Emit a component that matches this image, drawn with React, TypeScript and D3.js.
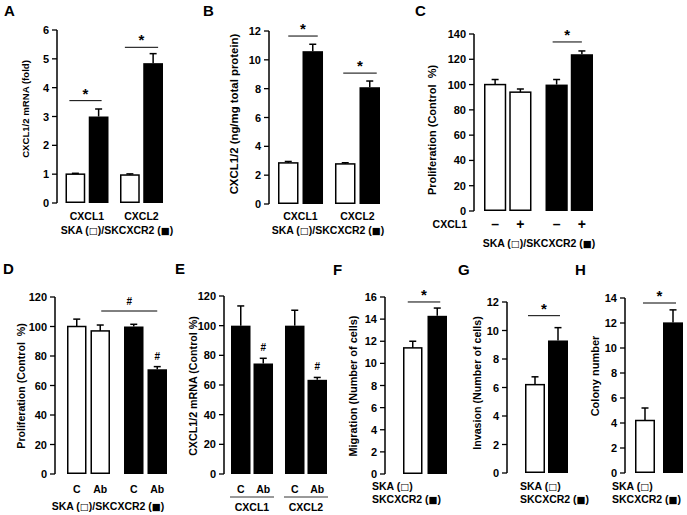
import React from "react";
import * as d3 from "d3";

const W = 687;
const H = 515;
const FONT = "'Liberation Sans', Arial, Helvetica, sans-serif";
const BOXFONT = "'DejaVu Sans', sans-serif";

// ---------- data ----------
const chemokines = ["CXCL1", "CXCL2"];
const treatCXCL1 = ["–", "+"];
const treatAb = ["C", "Ab"];
const cellSKA = "SKA";
const cellSKC = "SKCXCR2";
const boxOpen = "□";
const boxFilled = "■";

const aSKA = [1.0, 0.97];
const aSKAErr = [0.03, 0.04];
const aSKC = [3.0, 4.85];
const aSKCErr = [0.26, 0.33];
const aTicks = [0, 1, 2, 3, 4, 5, 6];

const bSKA = [2.85, 2.78];
const bSKAErr = [0.1, 0.08];
const bSKC = [10.6, 8.1];
const bSKCErr = [0.48, 0.43];
const bTicks = [0, 2, 4, 6, 8, 10, 12];

const cSKA = [100, 94];
const cSKAErr = [4, 2.5];
const cSKC = [100, 124];
const cSKCErr = [4, 2.6];
const cTicks = [0, 20, 40, 60, 80, 100, 120, 140];

const dSKA = [100, 97];
const dSKAErr = [5, 4];
const dSKC = [100, 71];
const dSKCErr = [1.5, 1.8];
const dTicks = [0, 20, 40, 60, 80, 100, 120];

const eCXCL1 = [100, 74.5];
const eCXCL1Err = [13.3, 3.5];
const eCXCL2 = [100, 63.5];
const eCXCL2Err = [10.4, 1.6];
const eTicks = [0, 20, 40, 60, 80, 100, 120];

const fMigration = [11.4, 14.3];
const fErr = [0.6, 0.7];
const fTicks = [0, 2, 4, 6, 8, 10, 12, 14, 16];

const gInvasion = [6.2, 9.3];
const gErr = [0.55, 0.9];
const gTicks = [0, 2, 4, 6, 8, 10, 12];

const hColony = [4.2, 12.05];
const hErr = [1.0, 1.0];
const hTicks = [0, 2, 4, 6, 8, 10, 12, 14];

// ---------- types ----------
type Bar = { g: number; i: number; v: number; e: number; dark: boolean };
type Sig = { a: number; b: number; v: number; mark: string; ext0: number; ext1: number };
type Panel = {
  letter: string;
  lx: number;
  ly: number;
  axisX: number;
  y0: number;
  yTop: number;
  ticks: number[];
  x0: number;
  x1: number;
  nGroups: number;
  nPer: number;
  groupPad: number;
  barPad: number;
  bars: Bar[];
  title: string;
  titleX: number;
  titleY: number;
  titleSize: number;
  sigs: Sig[];
  barMarks: number[];
};

function pairBars(white: number[], whiteErr: number[], black: number[], blackErr: number[]): Bar[] {
  const out: Bar[] = [];
  white.forEach((_, g) => {
    out.push({ g, i: 0, v: white[g], e: whiteErr[g], dark: false });
    out.push({ g, i: 1, v: black[g], e: blackErr[g], dark: true });
  });
  return out;
}
function groupBars(vals: number[][], errs: number[][], dark: boolean[]): Bar[] {
  const out: Bar[] = [];
  vals.forEach((vs, g) => vs.forEach((v, i) => out.push({ g, i, v, e: errs[g][i], dark: dark[g] })));
  return out;
}

const panelA: Panel = {
  letter: "A", lx: 4, ly: 16,
  axisX: 57, y0: 203, yTop: 30, ticks: aTicks,
  x0: 65.5, x1: 163, nGroups: 2, nPer: 2, groupPad: 0.211, barPad: 0.15,
  bars: pairBars(aSKA, aSKAErr, aSKC, aSKCErr),
  title: "CXCL1/2 mRNA (fold)", titleX: 25, titleY: 109, titleSize: 9.6,
  sigs: [
    { a: 0, b: 1, v: 3.55, mark: "*", ext0: 6, ext1: 3 },
    { a: 2, b: 3, v: 5.4, mark: "*", ext0: 5, ext1: 5 },
  ],
  barMarks: [],
};

const panelB: Panel = {
  letter: "B", lx: 203, ly: 16,
  axisX: 269, y0: 204, yTop: 31, ticks: bTicks,
  x0: 278, x1: 380, nGroups: 2, nPer: 2, groupPad: 0.21, barPad: 0.163,
  bars: pairBars(bSKA, bSKAErr, bSKC, bSKCErr),
  title: "CXCL1/2 (ng/mg total protein)", titleX: 234, titleY: 114, titleSize: 11.4,
  sigs: [
    { a: 0, b: 1, v: 11.65, mark: "*", ext0: 0, ext1: 5 },
    { a: 2, b: 3, v: 9.08, mark: "*", ext0: 2, ext1: 7 },
  ],
  barMarks: [],
};

const panelC: Panel = {
  letter: "C", lx: 415, ly: 16,
  axisX: 474, y0: 211, yTop: 34, ticks: cTicks,
  x0: 484, x1: 593, nGroups: 2, nPer: 2, groupPad: 0.228, barPad: 0.12,
  bars: groupBars([cSKA, cSKC], [cSKAErr, cSKCErr], [false, true]),
  title: "Proliferation (Control  %)", titleX: 432, titleY: 130, titleSize: 11,
  sigs: [{ a: 2, b: 3, v: 133.7, mark: "*", ext0: 4, ext1: 0 }],
  barMarks: [],
};

const panelD: Panel = {
  letter: "D", lx: 3, ly: 274,
  axisX: 55, y0: 474, yTop: 297, ticks: dTicks,
  x0: 67, x1: 167, nGroups: 2, nPer: 2, groupPad: 0.246, barPad: 0.17,
  bars: groupBars([dSKA, dSKC], [dSKAErr, dSKCErr], [false, true]),
  title: "Proliferation (Control  %)", titleX: 21, titleY: 386, titleSize: 10.6,
  sigs: [{ a: 1, b: 3, v: 110.5, mark: "#", ext0: -1, ext1: 0 }],
  barMarks: [3],
};

const panelE: Panel = {
  letter: "E", lx: 175, ly: 274,
  axisX: 224, y0: 474, yTop: 296, ticks: eTicks,
  x0: 231, x1: 327, nGroups: 2, nPer: 2, groupPad: 0.222, barPad: 0.133,
  bars: groupBars([eCXCL1, eCXCL2], [eCXCL1Err, eCXCL2Err], [true, true]),
  title: "CXCL1/2 mRNA (Control %)", titleX: 193, titleY: 386, titleSize: 10.7,
  sigs: [],
  barMarks: [1, 3],
};

const panelF: Panel = {
  letter: "F", lx: 333, ly: 275,
  axisX: 385, y0: 474, yTop: 297, ticks: fTicks,
  x0: 403, x1: 447, nGroups: 1, nPer: 2, groupPad: 0, barPad: 0.204,
  bars: groupBars([fMigration], [fErr], [false]).map((b) => ({ ...b, dark: b.i === 1 })),
  title: "Migration (Number of cells)", titleX: 353, titleY: 386, titleSize: 10.9,
  sigs: [{ a: 0, b: 1, v: 15.55, mark: "*", ext0: 5, ext1: 3 }],
  barMarks: [],
};

const panelG: Panel = {
  letter: "G", lx: 458, ly: 275,
  axisX: 507, y0: 473, yTop: 302, ticks: gTicks,
  x0: 525, x1: 568, nGroups: 1, nPer: 2, groupPad: 0, barPad: 0.13,
  bars: groupBars([gInvasion], [gErr], [false]).map((b) => ({ ...b, dark: b.i === 1 })),
  title: "Invasion (Number of cells)", titleX: 477, titleY: 383, titleSize: 10.7,
  sigs: [{ a: 0, b: 1, v: 11.04, mark: "*", ext0: 7, ext1: 2 }],
  barMarks: [],
};

const panelH: Panel = {
  letter: "H", lx: 575, ly: 275,
  axisX: 625, y0: 473, yTop: 298, ticks: hTicks,
  x0: 635, x1: 683, nGroups: 1, nPer: 2, groupPad: 0, barPad: 0.286,
  bars: groupBars([hColony], [hErr], [false]).map((b) => ({ ...b, dark: b.i === 1 })),
  title: "Colony number", titleX: 595, titleY: 376, titleSize: 11,
  sigs: [{ a: 0, b: 1, v: 13.6, mark: "*", ext0: 2, ext1: 3 }],
  barMarks: [],
};

function makeScales(p: Panel) {
  const yMax = p.ticks[p.ticks.length - 1];
  const y = d3.scaleLinear().domain([0, yMax]).range([p.y0, p.yTop]);
  const gx = d3
    .scaleBand<number>()
    .domain(d3.range(p.nGroups))
    .range([p.x0, p.x1])
    .paddingInner(p.groupPad)
    .paddingOuter(0);
  const bx = d3
    .scaleBand<number>()
    .domain(d3.range(p.nPer))
    .range([0, gx.bandwidth()])
    .paddingInner(p.barPad)
    .paddingOuter(0);
  const barX = (b: Bar) => (gx(b.g) as number) + (bx(b.i) as number);
  const barC = (b: Bar) => barX(b) + bx.bandwidth() / 2;
  const groupC = (g: number) => (gx(g) as number) + gx.bandwidth() / 2;
  return { y, gx, bx, barX, barC, groupC };
}

function Box({ ch }: { ch: string }) {
  return (
    <tspan fontFamily={BOXFONT} fontSize={9.5} fontWeight="normal">
      {ch}
    </tspan>
  );
}

function Legend({ x, y, anchor }: { x: number; y: number; anchor: string }) {
  return (
    <text x={x} y={y} fontSize={10.5} fontWeight="bold" textAnchor={anchor}>
      {cellSKA} (<Box ch={boxOpen} />)/{cellSKC} (<Box ch={boxFilled} />)
    </text>
  );
}

function PanelView({ p }: { p: Panel }) {
  const { y, bx, barX, barC } = makeScales(p);
  const bw = bx.bandwidth();
  return (
    <g>
      <text x={p.lx} y={p.ly} fontSize={15} fontWeight="bold">
        {p.letter}
      </text>
      <line x1={p.axisX} x2={p.axisX} y1={y(0)} y2={y(p.ticks[p.ticks.length - 1])} stroke="#000" strokeWidth={1.5} />
      {p.ticks.map((t) => (
        <g key={t}>
          <line x1={p.axisX - 5} x2={p.axisX} y1={y(t)} y2={y(t)} stroke="#000" strokeWidth={1.3} />
          <text x={p.axisX - 8} y={y(t) + 4} fontSize={11} fontWeight="bold" textAnchor="end">
            {t}
          </text>
        </g>
      ))}
      <text
        transform={`translate(${p.titleX},${p.titleY}) rotate(-90)`}
        fontSize={p.titleSize}
        fontWeight="bold"
        textAnchor="middle"
        dominantBaseline="central"
        style={{ whiteSpace: "pre" }}
      >
        {p.title}
      </text>
      {p.bars.map((b, k) => {
        const top = y(b.v);
        const et = y(b.v + b.e);
        const cx = barC(b);
        return (
          <g key={k}>
            <line x1={cx} x2={cx} y1={top} y2={et} stroke="#000" strokeWidth={1.5} />
            <line x1={cx - 3.5} x2={cx + 3.5} y1={et} y2={et} stroke="#000" strokeWidth={1.5} />
            {b.dark ? (
              <rect x={barX(b)} y={top} width={bw} height={y(0) - top} fill="#000" />
            ) : (
              <rect
                x={barX(b) + 0.75}
                y={top}
                width={bw - 1.5}
                height={y(0) - top - 0.75}
                fill="#fff"
                stroke="#000"
                strokeWidth={1.5}
              />
            )}
          </g>
        );
      })}
      {p.sigs.map((s, k) => {
        const xa = barC(p.bars[s.a]) - s.ext0;
        const xb = barC(p.bars[s.b]) + s.ext1;
        const ly = y(s.v);
        return (
          <g key={k}>
            <line x1={xa} x2={xb} y1={ly} y2={ly} stroke="#000" strokeWidth={1} />
            <text
              x={(xa + xb) / 2}
              y={s.mark === "*" ? ly - 2 : ly - 6}
              fontSize={s.mark === "*" ? 15 : 10}
              fontWeight="bold"
              textAnchor="middle"
            >
              {s.mark}
            </text>
          </g>
        );
      })}
      {p.barMarks.map((bi) => {
        const b = p.bars[bi];
        return (
          <text key={bi} x={barC(b)} y={y(b.v + b.e) - 7} fontSize={10} fontWeight="bold" textAnchor="middle">
            #
          </text>
        );
      })}
    </g>
  );
}

function GroupLabels({ p, labels, yb }: { p: Panel; labels: string[]; yb: number }) {
  const { groupC } = makeScales(p);
  return (
    <g>
      {labels.map((l, g) => (
        <text key={g} x={groupC(g)} y={yb} fontSize={10.5} fontWeight="bold" textAnchor="middle">
          {l}
        </text>
      ))}
    </g>
  );
}

function BarLabels({ p, labels, yb, size }: { p: Panel; labels: string[]; yb: number; size: number }) {
  const { barC } = makeScales(p);
  return (
    <g>
      {p.bars.map((b, k) => (
        <text key={k} x={barC(b)} y={yb} fontSize={size} fontWeight="bold" textAnchor="middle">
          {labels[b.i]}
        </text>
      ))}
    </g>
  );
}

function EGroupUnderlines({ p, labels }: { p: Panel; labels: string[] }) {
  const { gx, groupC } = makeScales(p);
  return (
    <g>
      {labels.map((l, g) => (
        <g key={g}>
          <line
            x1={(gx(g) as number) - 1}
            x2={(gx(g) as number) + gx.bandwidth() + 1}
            y1={497}
            y2={497}
            stroke="#000"
            strokeWidth={0.8}
          />
          <text x={groupC(g)} y={511} fontSize={10.5} fontWeight="bold" textAnchor="middle">
            {l}
          </text>
        </g>
      ))}
    </g>
  );
}

function TwoLineLegend({ x }: { x: number }) {
  return (
    <g fontSize={10.5} fontWeight="bold">
      <text x={x} y={490}>
        {cellSKA} (<Box ch={boxOpen} />)
      </text>
      <text x={x} y={503}>
        {cellSKC} (<Box ch={boxFilled} />)
      </text>
    </g>
  );
}

export default function App() {
  return (
    <svg
      width={W}
      height={H}
      viewBox={`0 0 ${W} ${H}`}
      style={{ position: "absolute", left: 0, top: 0, background: "#fff" }}
      fontFamily={FONT}
    >
      <rect x={0} y={0} width={W} height={H} fill="#fff" />
      <PanelView p={panelA} />
      <GroupLabels p={panelA} labels={chemokines} yb={220} />
      <Legend x={117} y={234} anchor="middle" />

      <PanelView p={panelB} />
      <GroupLabels p={panelB} labels={chemokines} yb={220} />
      <Legend x={328} y={234} anchor="middle" />

      <PanelView p={panelC} />
      <BarLabels p={panelC} labels={treatCXCL1} yb={229} size={14} />
      <text x={467} y={228} fontSize={10.5} fontWeight="bold" textAnchor="end">
        CXCL1
      </text>
      <Legend x={539} y={247} anchor="middle" />

      <PanelView p={panelD} />
      <BarLabels p={panelD} labels={treatAb} yb={493} size={10.5} />
      <Legend x={108} y={510} anchor="middle" />

      <PanelView p={panelE} />
      <BarLabels p={panelE} labels={treatAb} yb={493} size={10.5} />
      <EGroupUnderlines p={panelE} labels={chemokines} />

      <PanelView p={panelF} />
      <TwoLineLegend x={372} />
      <PanelView p={panelG} />
      <TwoLineLegend x={520} />
      <PanelView p={panelH} />
      <TwoLineLegend x={612} />
    </svg>
  );
}
